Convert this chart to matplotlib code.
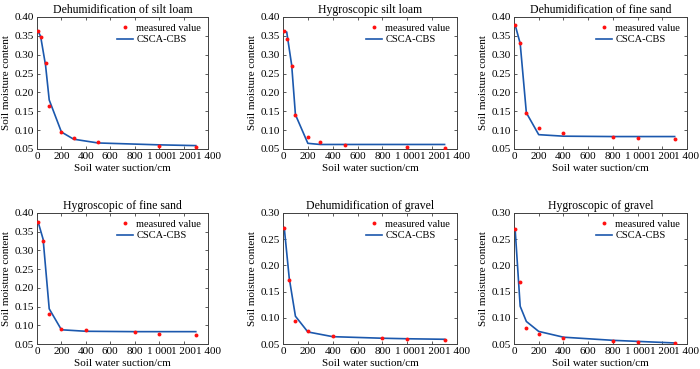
import matplotlib
matplotlib.use("Agg")
import matplotlib.pyplot as plt

plt.rcParams['font.family'] = ['Liberation Serif', 'DejaVu Serif']

titles = ["Dehumidification of silt loam", "Hygroscopic silt loam",
          "Dehumidification of fine sand", "Hygroscopic of fine sand",
          "Dehumidification of gravel", "Hygroscopic of gravel"]

x_silt = [10, 30, 70, 100, 200, 300, 500, 1000, 1300]
x_sand = [10, 50, 100, 200, 400, 800, 1000, 1300]

meas_silt_dehum = [0.363, 0.348, 0.279, 0.165, 0.095, 0.080, 0.068, 0.059, 0.054]
fit_silt_dehum = [0.362, 0.348, 0.272, 0.180, 0.095, 0.076, 0.066, 0.061, 0.059]

meas_silt_hygro = [0.363, 0.341, 0.270, 0.141, 0.082, 0.069, 0.061, 0.056, 0.053]
fit_silt_hygro = [0.362, 0.360, 0.272, 0.141, 0.065, 0.062, 0.062, 0.062, 0.062]

meas_sand_dehum = [0.378, 0.330, 0.146, 0.106, 0.092, 0.083, 0.079, 0.076]
fit_sand_dehum = [0.378, 0.330, 0.146, 0.088, 0.084, 0.083, 0.083, 0.083]

meas_sand_hygro = [0.375, 0.326, 0.131, 0.091, 0.088, 0.081, 0.078, 0.074]
fit_sand_hygro = [0.375, 0.330, 0.144, 0.088, 0.084, 0.083, 0.083, 0.083]

meas_grav_dehum = [0.272, 0.173, 0.093, 0.074, 0.066, 0.061, 0.059, 0.057]
fit_grav_dehum = [0.272, 0.176, 0.103, 0.073, 0.064, 0.061, 0.060, 0.059]

meas_grav_hygro = [0.269, 0.168, 0.081, 0.069, 0.062, 0.056, 0.054, 0.052]
fit_grav_hygro = [0.266, 0.122, 0.093, 0.074, 0.063, 0.057, 0.055, 0.052]

xs = [x_silt, x_silt, x_sand, x_sand, x_sand, x_sand]
meas = [meas_silt_dehum, meas_silt_hygro, meas_sand_dehum, meas_sand_hygro,
        meas_grav_dehum, meas_grav_hygro]
fits = [fit_silt_dehum, fit_silt_hygro, fit_sand_dehum, fit_sand_hygro,
        fit_grav_dehum, fit_grav_hygro]

xticks = [0, 200, 400, 600, 800, 1000, 1200, 1400]
xticklabels = ["0", "200", "400", "600", "800", "1 000", "1 200", "1 400"]
yticks_a = [0.05, 0.10, 0.15, 0.20, 0.25, 0.30, 0.35, 0.40]
yticks_b = [0.05, 0.10, 0.15, 0.20, 0.25, 0.30]

W, H = 700, 369
fig = plt.figure(figsize=(W / 100, H / 100), dpi=100)

lefts = [37, 283, 514]
widths = [171, 174, 173]
tops = [17, 213]
heights = [132, 131]

edge = '#404040'
for i in range(6):
    r, c = divmod(i, 3)
    ax = fig.add_axes([lefts[c] / W, 1 - (tops[r] + heights[r]) / H,
                       widths[c] / W, heights[r] / H])
    ax.plot(xs[i], meas[i], 'o', color='#ff1010', ms=2.8, mew=0,
            label='measured value', zorder=3)
    ax.plot(xs[i], fits[i], '-', color='#1b58ad', lw=1.2, label='CSCA-CBS')
    ax.set_xlim(0, 1400)
    ax.set_xticks(xticks)
    ax.set_xticklabels(xticklabels)
    yt = yticks_a if i < 4 else yticks_b
    ax.set_ylim(yt[0], yt[-1])
    ax.set_yticks(yt)
    ax.set_yticklabels([f"{v:.2f}" for v in yt])
    ax.tick_params(direction='in', top=True, right=True, length=2.5,
                   width=0.6, labelsize=8, pad=2, color=edge)
    for s in ax.spines.values():
        s.set_color(edge)
        s.set_linewidth(0.7)
    ax.set_title(titles[i], fontsize=8.5, pad=3)
    ax.set_xlabel("Soil water suction/cm", fontsize=8, labelpad=2.5)
    ax.set_ylabel("Soil moisture content", fontsize=8, labelpad=3)
    ax.legend(loc='upper right', frameon=False, fontsize=7.5, handlelength=1.6,
              handletextpad=0.3, borderaxespad=0.45, labelspacing=0.2,
              borderpad=0.2)

fig.savefig("out.png", dpi=100)
